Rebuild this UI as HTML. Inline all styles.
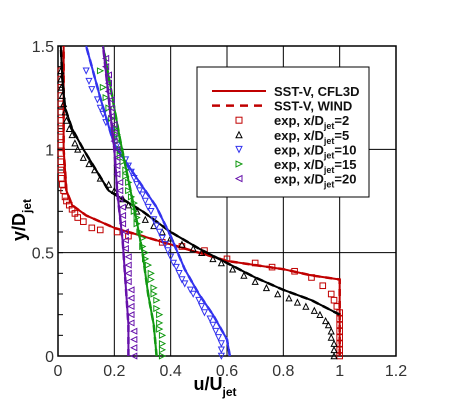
<!DOCTYPE html>
<html><head><meta charset="utf-8"><style>
body{margin:0;background:#fff;}
svg{display:block;font-family:"Liberation Sans",sans-serif;}
</style></head><body>
<svg id="c" width="450" height="401"></svg>
<script>
const xTicks=[0,0.2,0.4,0.6,0.8,1,1.2];
const xTickLabels=["0","0.2","0.4","0.6","0.8","1","1.2"];
const yTicks=[0,0.5,1,1.5];
const yTickLabels=["0","0.5","1","1.5"];
const cfl2U=[1.0,1.0,1.0,0.9,0.8,0.6,0.5,0.4,0.3,0.2,0.1,0.05,0.03,0.025,0.02,0.02];
const cfl2Y=[0,0.2,0.37,0.39,0.42,0.46,0.5,0.54,0.58,0.62,0.68,0.73,0.8,0.9,1.0,1.5];
const exp2U=[1.0,1.0,1.0,1.0,1.0,1.0,1.0,1.0,0.99,0.98,0.97,0.94,0.9,0.84,0.76,0.7,0.6,0.52,0.44,0.37,0.25,0.21,0.15,0.12,0.09,0.07,0.06,0.05,0.04,0.03,0.025,0.02,0.015,0.012,0.01,0.01,0.01,0.01,0.01,0.01,0.01,0.01,0.01,0.01,0.01,0.01,0.01];
const exp2Y=[0,0.03,0.06,0.09,0.12,0.15,0.18,0.21,0.24,0.27,0.3,0.34,0.38,0.41,0.43,0.45,0.47,0.51,0.53,0.55,0.58,0.6,0.61,0.62,0.65,0.67,0.69,0.71,0.73,0.75,0.77,0.8,0.83,0.86,0.9,0.94,0.98,1.02,1.06,1.1,1.14,1.18,1.22,1.26,1.3,1.34,1.38];
const cfl5U=[1.0,0.9,0.8,0.7,0.6,0.5,0.4,0.3,0.18,0.09,0.05,0.025,0.015,0.01];
const cfl5Y=[0.2,0.27,0.32,0.38,0.45,0.52,0.6,0.7,0.8,1.0,1.1,1.2,1.35,1.5];
const exp5U=[0.98,0.98,0.98,0.97,0.97,0.96,0.95,0.93,0.91,0.88,0.85,0.82,0.78,0.74,0.7,0.66,0.62,0.58,0.55,0.51,0.48,0.44,0.4,0.37,0.34,0.31,0.28,0.25,0.23,0.2,0.18,0.15,0.13,0.11,0.09,0.07,0.06,0.05,0.04,0.03,0.025,0.02,0.015,0.012,0.01,0.01];
const exp5Y=[0,0.03,0.06,0.09,0.12,0.15,0.17,0.2,0.22,0.24,0.26,0.28,0.3,0.33,0.36,0.39,0.42,0.45,0.47,0.5,0.52,0.54,0.57,0.6,0.63,0.66,0.7,0.73,0.76,0.8,0.83,0.86,0.9,0.93,0.96,1.0,1.03,1.07,1.1,1.14,1.18,1.22,1.26,1.3,1.34,1.38];
const cfl10U=[0.61,0.6,0.55,0.5,0.45,0.4,0.35,0.3,0.25,0.2,0.15,0.1];
const cfl10Y=[0,0.08,0.2,0.3,0.42,0.58,0.72,0.82,0.92,1.02,1.25,1.5];
const exp10U=[0.58,0.58,0.58,0.57,0.56,0.55,0.54,0.52,0.51,0.5,0.48,0.47,0.45,0.44,0.43,0.42,0.41,0.4,0.39,0.38,0.37,0.36,0.35,0.34,0.33,0.32,0.31,0.3,0.29,0.28,0.27,0.26,0.25,0.24,0.22,0.21,0.2,0.19,0.17,0.16,0.15,0.14,0.12,0.11,0.1];
const exp10Y=[0,0.03,0.06,0.09,0.12,0.15,0.18,0.21,0.24,0.27,0.3,0.32,0.35,0.37,0.4,0.43,0.45,0.48,0.51,0.54,0.57,0.6,0.63,0.66,0.7,0.72,0.75,0.78,0.8,0.83,0.86,0.89,0.92,0.95,0.99,1.02,1.05,1.09,1.13,1.17,1.2,1.24,1.29,1.33,1.38];
const cfl15U=[0.35,0.34,0.32,0.3,0.28,0.25,0.22,0.2,0.18,0.16];
const cfl15Y=[0,0.15,0.3,0.5,0.65,0.85,1.05,1.2,1.35,1.5];
const exp15U=[0.37,0.37,0.37,0.37,0.36,0.36,0.36,0.35,0.35,0.34,0.34,0.33,0.33,0.32,0.31,0.31,0.3,0.3,0.29,0.28,0.28,0.27,0.27,0.26,0.25,0.25,0.24,0.24,0.23,0.22,0.22,0.21,0.21,0.2,0.19,0.18,0.17,0.16,0.15];
const exp15Y=[0,0.03,0.06,0.1,0.13,0.16,0.2,0.23,0.27,0.3,0.33,0.37,0.4,0.44,0.47,0.5,0.53,0.57,0.6,0.64,0.67,0.7,0.74,0.77,0.8,0.84,0.87,0.9,0.94,0.97,1.0,1.04,1.07,1.1,1.15,1.2,1.25,1.3,1.38];
const cfl20U=[0.25,0.25,0.24,0.23,0.21,0.2,0.18,0.16];
const cfl20Y=[0,0.15,0.35,0.55,0.8,1.0,1.25,1.5];
const exp20U=[0.27,0.27,0.27,0.27,0.26,0.26,0.26,0.26,0.26,0.25,0.25,0.25,0.25,0.24,0.24,0.24,0.23,0.23,0.23,0.22,0.22,0.22,0.21,0.21,0.21,0.21,0.2,0.2,0.2,0.19,0.19,0.19,0.18,0.18,0.18,0.17,0.17];
const exp20Y=[0,0.04,0.08,0.12,0.16,0.2,0.24,0.28,0.32,0.36,0.4,0.44,0.48,0.52,0.56,0.6,0.64,0.68,0.72,0.76,0.8,0.84,0.88,0.92,0.96,1.0,1.04,1.08,1.12,1.16,1.2,1.24,1.28,1.32,1.36,1.4,1.44];

const NS="http://www.w3.org/2000/svg";
const svg=document.getElementById('c');
const L=58,R=396,T=46,B=356;
const sx=u=>L+u/1.2*(R-L);
const sy=v=>B-v/1.5*(B-T);
function mk(tag,attrs,parent){const e=document.createElementNS(NS,tag);for(const k in attrs)e.setAttribute(k,attrs[k]);(parent||svg).appendChild(e);return e;}
const gridG=mk('g',{});


xTicks.forEach((t,i)=>{
  const l=mk('line',{x1:sx(t),x2:sx(t),y1:T,y2:B,stroke:'#000','stroke-width':1},gridG);
  
  
  const tx=mk('text',{x:sx(t),y:B+20,'text-anchor':'middle','font-size':16,fill:'#333'});
  tx.textContent=xTickLabels[i];
  
  
});
yTicks.forEach((t,i)=>{
  const l=mk('line',{x1:L,x2:R,y1:sy(t),y2:sy(t),stroke:'#000','stroke-width':1},gridG);
  
  
  const tx=mk('text',{x:L-4,y:sy(t)+6,'text-anchor':'end','font-size':16,fill:'#333'});
  tx.textContent=yTickLabels[i];
  
  
});
for(let v=0.1;v<1.5;v+=0.1){mk('line',{x1:L,x2:L+5,y1:sy(v),y2:sy(v),stroke:'#000'},gridG);}
const frame=mk('rect',{x:L,y:T,width:R-L,height:B-T,fill:'none',stroke:'#000','stroke-width':1.5});



function line(U,Y,col,dash,name){
  const p=mk('polyline',{points:U.map((u,i)=>sx(u)+','+sy(Y[i])).join(' '),fill:'none',stroke:col,'stroke-width':dash?2.5:2,'stroke-dasharray':dash?'7,5':'none'});
  
  
}
function marker(x,y,type,col,s){
  let d;
  if(type==='sq')return mk('rect',{x:x-s,y:y-s,width:2*s,height:2*s,fill:'none',stroke:col});
  if(type==='up')d=`M${x},${y-s}L${x+s},${y+s}L${x-s},${y+s}Z`;
  if(type==='down')d=`M${x},${y+s}L${x+s},${y-s}L${x-s},${y-s}Z`;
  if(type==='right')d=`M${x+s},${y}L${x-s},${y-s}L${x-s},${y+s}Z`;
  if(type==='left')d=`M${x-s},${y}L${x+s},${y-s}L${x+s},${y+s}Z`;
  return mk('path',{d:d,fill:'none',stroke:col});
}
function pts(U,Y,type,col,name){
  U.forEach((u,i)=>{
    const m=marker(sx(u),sy(Y[i]),type,col,2.8);
    
    
  });
}
const series=[
 [cfl2U,cfl2Y,exp2U,exp2Y,'#c00000','sq','2'],
 [cfl5U,cfl5Y,exp5U,exp5Y,'#000','up','5'],
 [cfl10U,cfl10Y,exp10U,exp10Y,'#3333ee','down','10'],
 [cfl15U,cfl15Y,exp15U,exp15Y,'#119911','right','15'],
 [cfl20U,cfl20Y,exp20U,exp20Y,'#6611aa','left','20']];
series.forEach(s=>{
  pts(s[2],s[3],s[5],s[4],'exp-marker-xd'+s[6]);
  line(s[0],s[1],s[4],true,'wind-line-xd'+s[6]);
  line(s[0],s[1],s[4],false,'cfl3d-line-xd'+s[6]);
});

// legend
const lg=mk('g',{});


mk('rect',{x:197,y:67,width:172,height:130,fill:'#fff',stroke:'#000'},lg);
const rows=[['SST-V, CFL3D','line'],['SST-V, WIND','dash'],['exp, x/D','sq','2'],['exp, x/D','up','5'],['exp, x/D','down','10'],['exp, x/D','right','15'],['exp, x/D','left','20']];
const cols={sq:'#c00000',up:'#000',down:'#3333ee',right:'#119911',left:'#6611aa'};
rows.forEach((r,i)=>{
  const y=91+i*14.6;
  if(r[1]==='line')mk('line',{x1:212,x2:266,y1:y,y2:y,stroke:'#c00000','stroke-width':2},lg);
  else if(r[1]==='dash')mk('line',{x1:212,x2:266,y1:y,y2:y,stroke:'#c00000','stroke-width':2.5,'stroke-dasharray':'8,6'},lg);
  else marker(239,y,r[1],cols[r[1]],3);
  const t=mk('text',{x:274,y:y+5,'font-size':13,'font-weight':'bold',fill:'#111'},lg);
  
  
  if(r[2]){t.innerHTML=`exp, x/D<tspan font-size="9" dy="4">jet</tspan><tspan dy="-4">=${r[2]}</tspan>`;}
  else t.textContent=r[0];
});
const xt=mk('text',{x:215,y:390,'font-size':18,'font-weight':'bold','text-anchor':'middle'});
xt.innerHTML='u/U<tspan font-size="12" dy="6">jet</tspan>';


const yt=mk('text',{x:0,y:0,'font-size':18,'font-weight':'bold','text-anchor':'middle',transform:'translate(25,220) rotate(-90)'});
yt.innerHTML='y/D<tspan font-size="12" dy="6">jet</tspan>';


</script>
</body></html>
